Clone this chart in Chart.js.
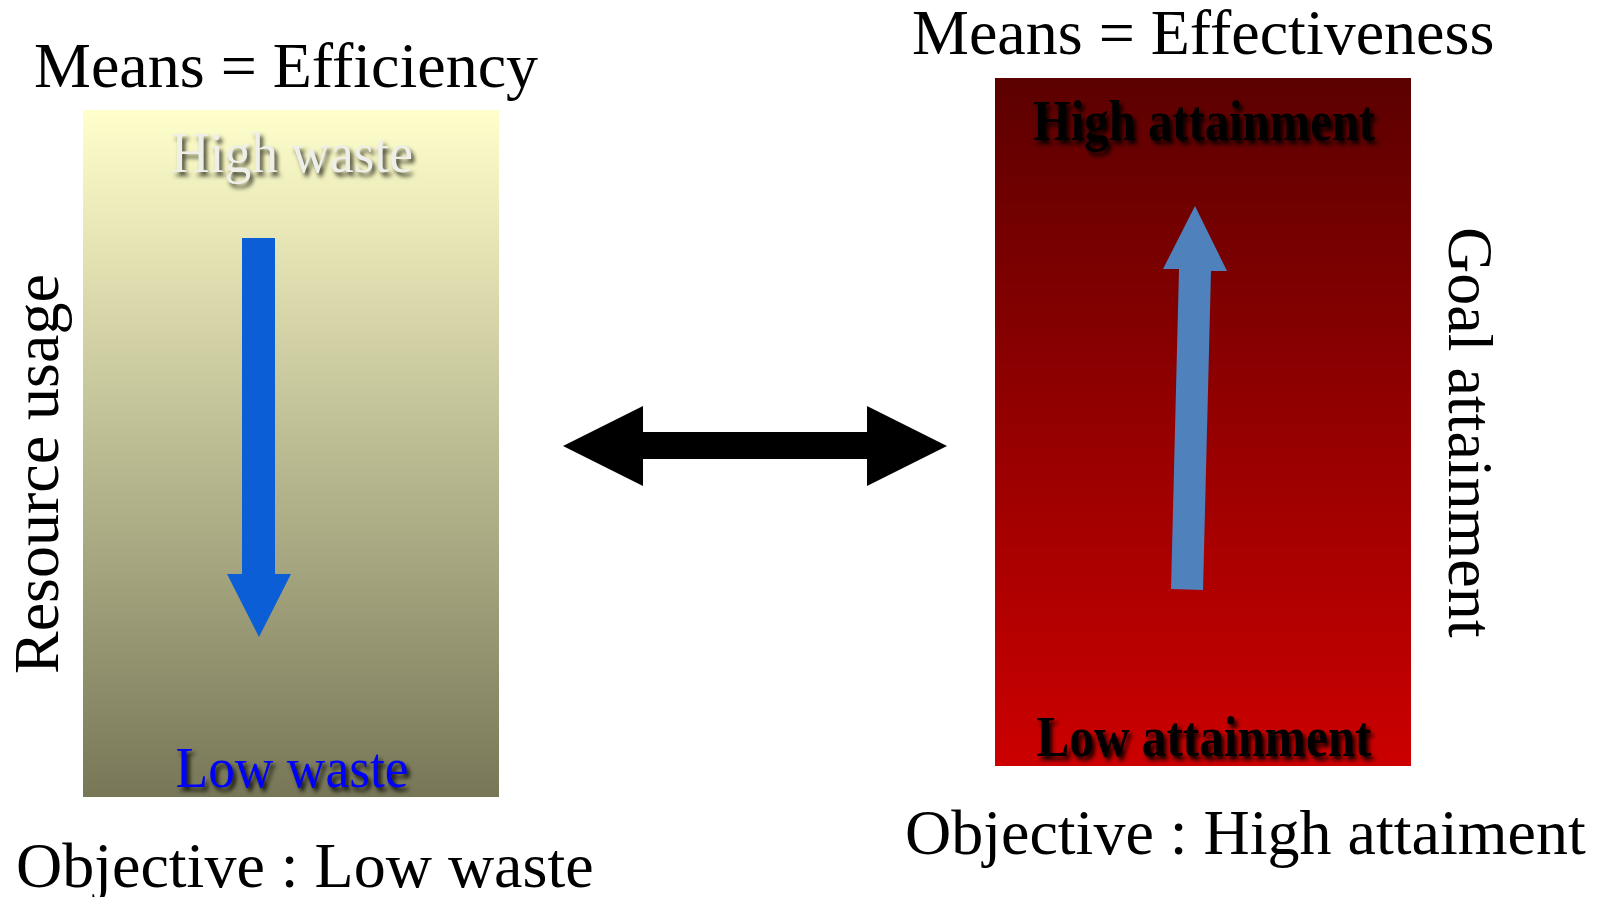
<!DOCTYPE html>
<html>
<head>
<meta charset="utf-8">
<script src="https://cdn.jsdelivr.net/npm/chart.js@4"></script>
<style>
  body { margin: 0; background: #fff; }
  #diagram { display: block; }
</style>
</head>
<body>
<canvas id="diagram" width="1602" height="897" style="width:1602px;height:897px"></canvas>
<script>
// shapes, in diagram units (x to the right, y downwards)
const efficiencyBox = [[83, 110], [499, 110], [499, 797], [83, 797]];
const effectivenessBox = [[995, 78], [1411, 78], [1411, 766], [995, 766]];
const wasteArrow = [[242, 238], [275, 238], [275, 574], [291, 574], [259, 637], [227, 574], [242, 574]];
const attainArrow = [[1171, 589], [1179, 269], [1163, 269], [1195, 206], [1227, 271], [1211, 271], [1203, 590]];
const linkArrow = [[563, 446], [643, 406], [643, 432], [867, 432], [867, 406], [947, 446], [867, 486], [867, 459], [643, 459], [643, 486]];

// texts
const titles = ['Means = Efficiency', 'Means = Effectiveness'];
const objectives = ['Objective : Low waste', 'Objective : High attaiment'];
const axisNames = ['Resource usage', 'Goal attainment'];
const levels = ['High waste', 'Low waste', 'High attainment', 'Low attainment'];

const serif = '"Liberation Serif", "Times New Roman", serif';

function toPoints(shape) {
    const pts = shape.map(p => ({ x: p[0], y: p[1] }));
    pts.push({ x: shape[0][0], y: shape[0][1] });
    return pts;
}

// gradient from top to bottom of a shape, built through the y scale
function vGradient(chart, shape, c1, c2) {
    const y = chart.scales.y;
    if (!chart.chartArea || !y) return c2;
    const ys = shape.map(p => p[1]);
    const g = chart.ctx.createLinearGradient(0, y.getPixelForValue(Math.min(...ys)), 0, y.getPixelForValue(Math.max(...ys)));
    g.addColorStop(0, c1);
    g.addColorStop(1, c2);
    return g;
}

function shapeSet(shape, color) {
    return {
        data: toPoints(shape),
        showLine: true,
        fill: 'shape',
        backgroundColor: color,
        borderColor: 'rgba(0,0,0,0)',
        borderWidth: 0,
        pointRadius: 0,
        tension: 0
    };
}

const labelsPlugin = {
    id: 'labels',
    afterDatasetsDraw(chart) {
        const ctx = chart.ctx;
        const X = v => chart.scales.x.getPixelForValue(v);
        const Y = v => chart.scales.y.getPixelForValue(v);

        function text(str, x, y, opts) {
            ctx.save();
            ctx.font = opts.font || '64px ' + serif;
            ctx.fillStyle = opts.color || '#000';
            ctx.textAlign = opts.align || 'left';
            ctx.textBaseline = 'alphabetic';
            if (opts.shadow) {
                ctx.shadowColor = opts.shadow;
                ctx.shadowOffsetX = 3;
                ctx.shadowOffsetY = 4;
                ctx.shadowBlur = 4;
            }
            ctx.translate(X(x), Y(y));
            if (opts.rot) ctx.rotate(opts.rot);
            if (opts.maxWidth) ctx.fillText(str, 0, 0, opts.maxWidth);
            else ctx.fillText(str, 0, 0);
            ctx.restore();
        }

        // titles and objectives
        text(titles[0], 34, 87, {});
        text(titles[1], 912, 54, {});
        text(objectives[0], 16, 887, {});
        text(objectives[1], 905, 854, {});

        // side names
        text(axisNames[0], 58, 674, { rot: -Math.PI / 2 });
        text(axisNames[1], 1449, 227, { rot: Math.PI / 2 });

        // levels inside the boxes
        text(levels[0], 292, 172, { align: 'center', font: '56px ' + serif, color: '#efefea', shadow: 'rgba(30,30,20,0.85)', maxWidth: 242 });
        text(levels[1], 292, 787, { align: 'center', font: '56px ' + serif, color: '#0000ff', shadow: 'rgba(0,0,0,0.85)', maxWidth: 233 });
        text(levels[2], 1204, 140, { align: 'center', font: 'bold 56px ' + serif, color: '#000', shadow: 'rgba(0,0,0,0.9)', maxWidth: 342 });
        text(levels[3], 1204, 756, { align: 'center', font: 'bold 56px ' + serif, color: '#000', shadow: 'rgba(0,0,0,0.9)', maxWidth: 335 });
    }
};

const leftBox = shapeSet(efficiencyBox, '#bbb');
leftBox.backgroundColor = c => vGradient(c.chart, efficiencyBox, '#ffffcc', '#777758');
const rightBox = shapeSet(effectivenessBox, '#900');
rightBox.backgroundColor = c => vGradient(c.chart, effectivenessBox, '#5c0000', '#cc0000');

// first dataset is drawn on top
new Chart(document.getElementById('diagram'), {
    type: 'line',
    data: {
        datasets: [
            shapeSet(wasteArrow, '#0b5ed6'),
            shapeSet(attainArrow, '#4f81bd'),
            shapeSet(linkArrow, '#000000'),
            leftBox,
            rightBox
        ]
    },
    options: {
        responsive: false,
        animation: false,
        events: [],
        layout: { padding: 0 },
        plugins: { legend: { display: false }, tooltip: { enabled: false } },
        scales: {
            x: { type: 'linear', min: 0, max: 1602, display: false },
            y: { type: 'linear', min: 0, max: 897, reverse: true, display: false }
        }
    },
    plugins: [labelsPlugin]
});
</script>
</body>
</html>
